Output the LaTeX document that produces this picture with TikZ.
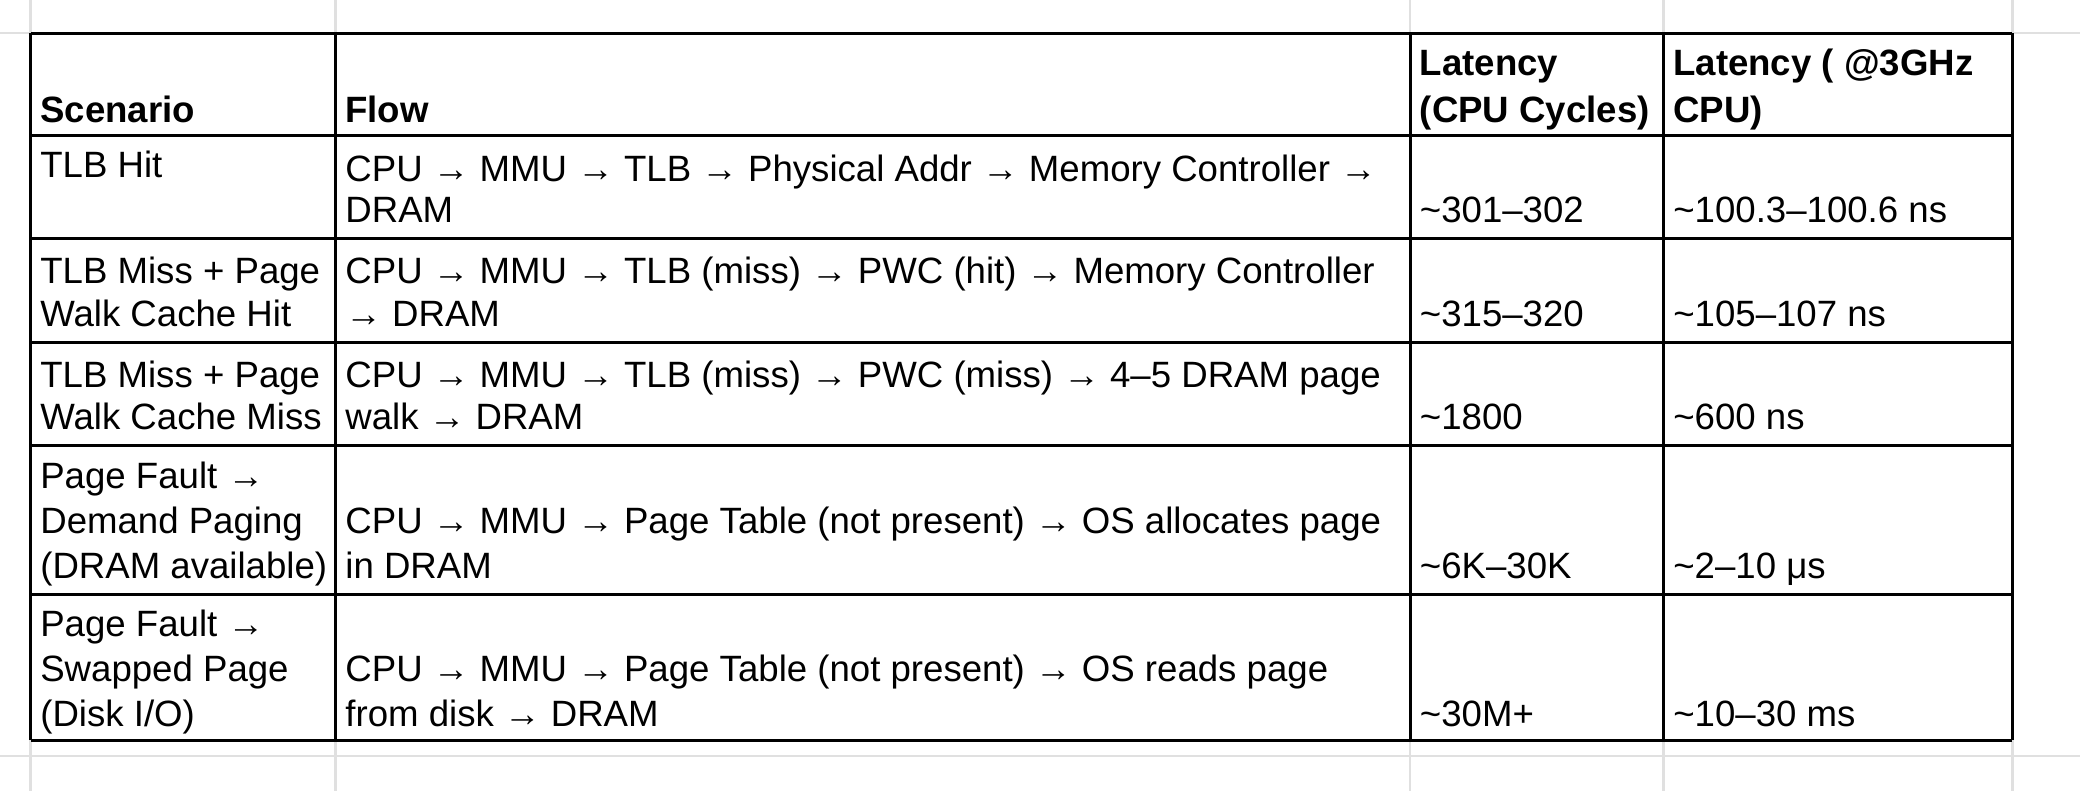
\documentclass[tikz,border=0pt]{standalone}
\usepackage{fontspec}
\setmainfont{Liberation Sans}
\begin{document}
\begin{tikzpicture}[x=0.5pt,y=-0.5pt,
  grid/.style={draw=black!12,line width=1pt},
  rule/.style={draw=black,line width=1.2pt},
  t/.style={anchor=base west,inner sep=0pt,font=\fontsize{13.8pt}{16pt}\selectfont},
  h/.style={t,font=\fontsize{13.8pt}{16pt}\selectfont\bfseries}]
\useasboundingbox (0,0) rectangle (1568,596);
\fill[white] (0,0) rectangle (1568,596);
% spreadsheet grid
\foreach \x in {23,253,1063,1254,1517} \draw[grid] (\x,0) -- (\x,596);
\foreach \y in {25,570} \draw[grid] (0,\y) -- (1568,\y);
% table rules
\foreach \y in {25,102,180,258,336,448,558} \draw[rule] (23,\y) -- (1517,\y);
\foreach \x in {23,253,1063,1254,1517} \draw[rule] (\x,25) -- (\x,558);
% header
\node[h] (h1) at (30,92) {Scenario};
\node[h] (h2) at (260,92) {Flow};
\node[h] (h3a) at (1070,57) {Latency};
\node[h] (h3b) at (1070,92) {(CPU Cycles)};
\node[h] (h4a) at (1261,57) {Latency ( @3GHz};
\node[h] (h4b) at (1261,92) {CPU)};
% row 1
\node[t] (a1) at (30,134) {TLB Hit};
\node[t] (b1a) at (260,137) {CPU → MMU → TLB → Physical Addr → Memory Controller →};
\node[t] (b1b) at (260,168) {DRAM};
\node[t] (c1) at (1070,168) {\textasciitilde301–302};
\node[t] (d1) at (1261,168) {\textasciitilde100.3–100.6 ns};
% row 2
\node[t] (a2a) at (30,214) {TLB Miss + Page};
\node[t] (a2b) at (30,246) {Walk Cache Hit};
\node[t] (b2a) at (260,214) {CPU → MMU → TLB (miss) → PWC (hit) → Memory Controller};
\node[t] (b2b) at (260,246) {→ DRAM};
\node[t] (c2) at (1070,246) {\textasciitilde315–320};
\node[t] (d2) at (1261,246) {\textasciitilde105–107 ns};
% row 3
\node[t] (a3a) at (30,292) {TLB Miss + Page};
\node[t] (a3b) at (30,324) {Walk Cache Miss};
\node[t] (b3a) at (260,292) {CPU → MMU → TLB (miss) → PWC (miss) → 4–5 DRAM page};
\node[t] (b3b) at (260,324) {walk → DRAM};
\node[t] (c3) at (1070,324) {\textasciitilde1800};
\node[t] (d3) at (1261,324) {\textasciitilde600 ns};
% row 4
\node[t] (a4a) at (30,368) {Page Fault →};
\node[t] (a4b) at (30,402) {Demand Paging};
\node[t] (a4c) at (30,436) {(DRAM available)};
\node[t] (b4a) at (260,402) {CPU → MMU → Page Table (not present) → OS allocates page};
\node[t] (b4b) at (260,436) {in DRAM};
\node[t] (c4) at (1070,436) {\textasciitilde6K–30K};
\node[t] (d4) at (1261,436) {\textasciitilde2–10 μs};
% row 5
\node[t] (a5a) at (30,480) {Page Fault →};
\node[t] (a5b) at (30,514) {Swapped Page};
\node[t] (a5c) at (30,548) {(Disk I/O)};
\node[t] (b5a) at (260,514) {CPU → MMU → Page Table (not present) → OS reads page};
\node[t] (b5b) at (260,548) {from disk → DRAM};
\node[t] (c5) at (1070,548) {\textasciitilde30M+};
\node[t] (d5) at (1261,548) {\textasciitilde10–30 ms};
\end{tikzpicture}
\end{document}
